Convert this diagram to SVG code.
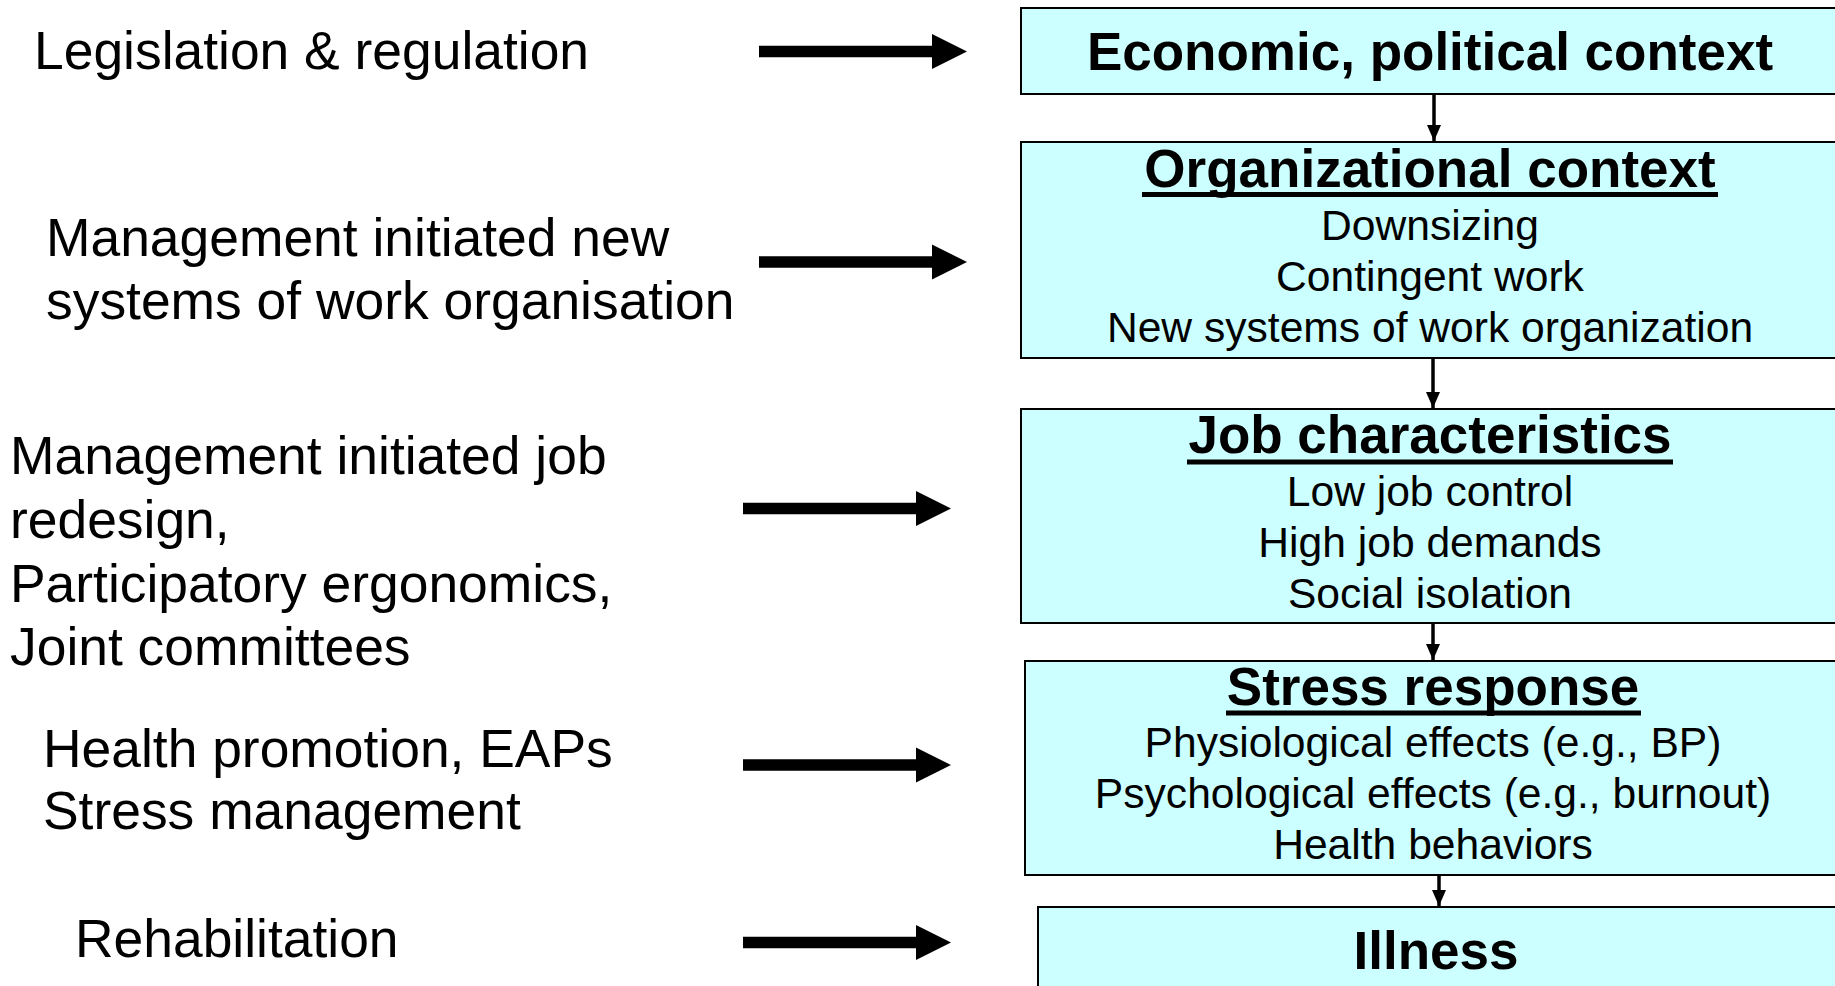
<svg xmlns="http://www.w3.org/2000/svg" width="1835" height="986" viewBox="0 0 1835 986">
<style>
  .box { fill: #CCFFFF; stroke: #000; stroke-width: 2; }
  .title { font-family: "Liberation Sans", Arial, sans-serif; font-weight: bold; font-size: 53px; fill: #000; text-anchor: middle; }
  .sub { font-family: "Liberation Sans", Arial, sans-serif; font-size: 42.6px; fill: #000; text-anchor: middle; }
  .left { font-family: "Liberation Sans", Arial, sans-serif; font-size: 53.4px; fill: #000; }
  .ul { stroke: #000; stroke-width: 5; }
  .conn { stroke: #000; stroke-width: 3.5; fill: none; }
  .big { fill: #000; }
</style>
<defs>
  <path id="bigArrow" d="M0,-5.7 H173 V-17.5 L208,0 L173,17.5 V5.7 H0 Z"/>
  <marker id="head" markerUnits="userSpaceOnUse" markerWidth="16" markerHeight="18" viewBox="0 0 16 18" refX="16" refY="9" orient="auto">
    <path d="M0,2 L16,9 L0,16 Z" fill="#000"/>
  </marker>
</defs>
<rect width="1835" height="986" fill="#fff"/>

<g id="n-economic">
  <rect class="box" x="1021" y="8" width="830" height="86"/>
  <text class="title" x="1430" y="70">Economic, political context</text>
</g>

<g id="n-organizational">
  <rect class="box" x="1021" y="142" width="830" height="216"/>
  <text class="title" x="1430" y="187">Organizational context</text>
  <line class="ul" x1="1142" y1="194.5" x2="1718" y2="194.5"/>
  <text class="sub" x="1430" y="240">Downsizing</text>
  <text class="sub" x="1430" y="291">Contingent work</text>
  <text class="sub" x="1430" y="342">New systems of work organization</text>
</g>

<g id="n-job">
  <rect class="box" x="1021" y="409" width="830" height="214"/>
  <text class="title" x="1430" y="453">Job characteristics</text>
  <line class="ul" x1="1187" y1="462" x2="1673" y2="462"/>
  <text class="sub" x="1430" y="506">Low job control</text>
  <text class="sub" x="1430" y="557">High job demands</text>
  <text class="sub" x="1430" y="608">Social isolation</text>
</g>

<g id="n-stress">
  <rect class="box" x="1025" y="661" width="830" height="214"/>
  <text class="title" x="1433" y="705">Stress response</text>
  <line class="ul" x1="1226" y1="713" x2="1641" y2="713"/>
  <text class="sub" x="1433" y="757">Physiological effects (e.g., BP)</text>
  <text class="sub" x="1433" y="808">Psychological effects (e.g., burnout)</text>
  <text class="sub" x="1433" y="859">Health behaviors</text>
</g>

<g id="n-illness">
  <rect class="box" x="1038" y="907" width="820" height="100"/>
  <text class="title" x="1436" y="969">Illness</text>
</g>

<g id="n-legislation">
  <text class="left" x="34" y="69">Legislation &amp; regulation</text>
</g>
<g id="n-mgmt-systems">
  <text class="left" x="46" y="256">Management initiated new</text>
  <text class="left" x="46" y="319">systems of work organisation</text>
</g>
<g id="n-mgmt-job">
  <text class="left" x="10" y="474">Management initiated job</text>
  <text class="left" x="10" y="538">redesign,</text>
  <text class="left" x="10" y="602">Participatory ergonomics,</text>
  <text class="left" x="10" y="665">Joint committees</text>
</g>
<g id="n-health">
  <text class="left" x="43" y="767">Health promotion, EAPs</text>
  <text class="left" x="43" y="829">Stress management</text>
</g>
<g id="n-rehab">
  <text class="left" x="75" y="957">Rehabilitation</text>
</g>

<g id="connectors">
  <line class="conn" x1="1434" y1="95" x2="1434" y2="141" marker-end="url(#head)"/>
  <line class="conn" x1="1433" y1="359" x2="1433" y2="408" marker-end="url(#head)"/>
  <line class="conn" x1="1433" y1="624" x2="1433" y2="660" marker-end="url(#head)"/>
  <line class="conn" x1="1439" y1="876" x2="1439" y2="906" marker-end="url(#head)"/>
  <use class="big" href="#bigArrow" x="759" y="51.5"/>
  <use class="big" href="#bigArrow" x="759" y="262"/>
  <use class="big" href="#bigArrow" x="743" y="508.5"/>
  <use class="big" href="#bigArrow" x="743" y="765"/>
  <use class="big" href="#bigArrow" x="743" y="942.5"/>
</g>
</svg>
